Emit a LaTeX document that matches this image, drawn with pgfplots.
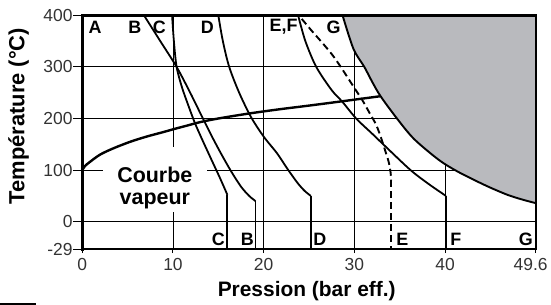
\documentclass[border=0pt]{standalone}
\usepackage{fontspec}
\setmainfont{Liberation Sans}
\usepackage{pgfplots}
\pgfplotsset{compat=1.18}
\definecolor{shade}{RGB}{185,186,190}
\begin{document}
\begin{tikzpicture}
\useasboundingbox (-82.3bp,-55.8bp) rectangle (468.7bp,249.2bp);
\begin{axis}[
  at={(0,0)}, anchor=south west,
  scale only axis, width=453.4bp, height=233.9bp,
  xmin=0, xmax=50, ymin=-53.3, ymax=400,
  clip=false,
  xtick={0,10,20,30,40,50}, xticklabels={0,10,20,30,40,\hspace*{-10bp}49.6},
  ytick={-53.3,0,100,200,300,400}, yticklabels={-29,0,100,200,300,400},
  grid=major, grid style={black, line width=0.9bp},
  axis line style={draw=none},
  tick align=outside, tick pos=left,
  major tick style={black, line width=1bp},
  xtick style={/pgfplots/major tick length=4bp},
  ytick style={/pgfplots/major tick length=9bp},
  ticklabel style={font=\fontsize{17.5}{20}\selectfont, text=black!80},
  yticklabel style={xshift=-2bp},
  xticklabel style={yshift=-1.5bp},
  /pgf/number format/assume math mode=true,
]
% white box behind the label
\fill[white] (axis cs:2.29,18.8) rectangle (axis cs:13.78,144.8);
% gray region
\addplot[draw=none, fill=shade] coordinates {
 (28.7,400) (29.9,335) (31.1,300) (32.0,270) (32.9,243) (34.7,200) (36.6,160)
 (39.3,120) (41.2,99) (43.2,81) (45,66) (46.9,52) (48.5,43) (50,36) (50,400)};
\addplot[black, line width=1.9bp, smooth] coordinates {
 (28.7,400) (29.9,335) (31.1,300) (32.0,270) (32.9,243) (34.7,200) (36.6,160)
 (39.3,120) (41.2,99) (43.2,81) (45,66) (46.9,52) (48.5,43) (50,36)};
% steam curve
\addplot[black, line width=2.4bp, smooth] coordinates {
 (0,100) (0.3,108) (0.85,116) (1.96,130) (3.4,142) (5.3,155) (7.1,165) (9,174)
 (10,179) (11.5,186) (13,193) (15,200) (18.5,210) (21.8,218) (25,225) (28.5,233) (32.8,243)};
% B
\addplot[black, line width=1.8bp, smooth] coordinates {
 (6.8,400) (8.6,350) (10.4,300) (11.9,250) (13.3,200) (14.3,165) (15.3,132)
 (16.4,98) (17.5,68) (18.4,50) (19.1,40)};
\addplot[black, line width=1.8bp] coordinates {(19.1,40) (19.1,-53.3)};
% C
\addplot[black, line width=1.8bp, smooth] coordinates {
 (9.9,400) (10.1,350) (10.4,300) (11.0,260) (11.7,225) (12.4,192) (13.2,160)
 (14.3,118) (15.2,84) (16.0,52)};
\addplot[black, line width=1.8bp] coordinates {(16.0,52) (16.0,-53.3)};
% D
\addplot[black, line width=1.8bp, smooth] coordinates {
 (15.0,400) (15.5,350) (16.2,300) (17.3,250) (18.6,203) (20.0,165) (21.5,132)
 (22.6,103) (23.7,76) (24.5,60) (25.2,50)};
\addplot[black, line width=1.8bp] coordinates {(25.2,50) (25.2,-53.3)};
% F
\addplot[black, line width=1.8bp, smooth] coordinates {
 (23.8,400) (24.6,350) (25.8,300) (27.5,255) (28.7,232) (30.2,200) (32.0,170)
 (33.6,143) (36.2,100) (38.2,73) (40.1,50)};
\addplot[black, line width=1.8bp] coordinates {(40.1,50) (40.1,-53.3)};
% E (dashed)
\addplot[black, line width=1.9bp, smooth, dash pattern=on 7bp off 4bp] coordinates {
 (24.2,393) (25.3,370) (26.3,350) (27.5,325) (28.5,300) (29.9,262) (30.9,235)
 (31.7,210) (32.4,188) (33.0,160) (33.45,135) (33.8,115) (34.0,95) (34.05,80)};
\addplot[black, line width=1.9bp, dash pattern=on 7bp off 4bp] coordinates {(34.05,80) (34.05,-53.3)};
% frame
\draw[line width=3bp, line cap=rect] (rel axis cs:0,0) -- (rel axis cs:0,1) -- (rel axis cs:1,1);
\draw[line width=2bp, line cap=rect] (rel axis cs:1,1) -- (rel axis cs:1,0);
\draw[line width=2.2bp, line cap=rect] (rel axis cs:0,0) -- (rel axis cs:1,0);
% letters
\begin{scope}[every node/.style={font=\bfseries\fontsize{18}{18}\selectfont, inner sep=0pt}]
\node at (axis cs:1.4,377) {A};
\node at (axis cs:5.8,377) {B};
\node at (axis cs:8.5,377) {C};
\node at (axis cs:13.8,377) {D};
\node at (axis cs:22.2,377) {E,F};
\node at (axis cs:27.7,377) {G};
\node at (axis cs:15.0,-34) {C};
\node at (axis cs:18.2,-34) {B};
\node at (axis cs:26.2,-34) {D};
\node at (axis cs:35.3,-34) {E};
\node at (axis cs:41.2,-34) {F};
\node at (axis cs:48.9,-34) {G};
\end{scope}
\node[font=\bfseries\fontsize{21.5}{22.5}\selectfont, align=center, inner sep=0pt] at (axis cs:8.0,65) {Courbe\\vapeur};
\end{axis}
\node[font=\bfseries\fontsize{21}{22}\selectfont] at (224.4bp,-41.8bp) {Pression (bar eff.)};
\node[rotate=90, font=\bfseries\fontsize{22}{23}\selectfont] at (-63.8bp,133bp) {Température (°C)};
\fill (-82.3bp,-55.8bp) rectangle (-46.3bp,-53.8bp);
\end{tikzpicture}
\end{document}
